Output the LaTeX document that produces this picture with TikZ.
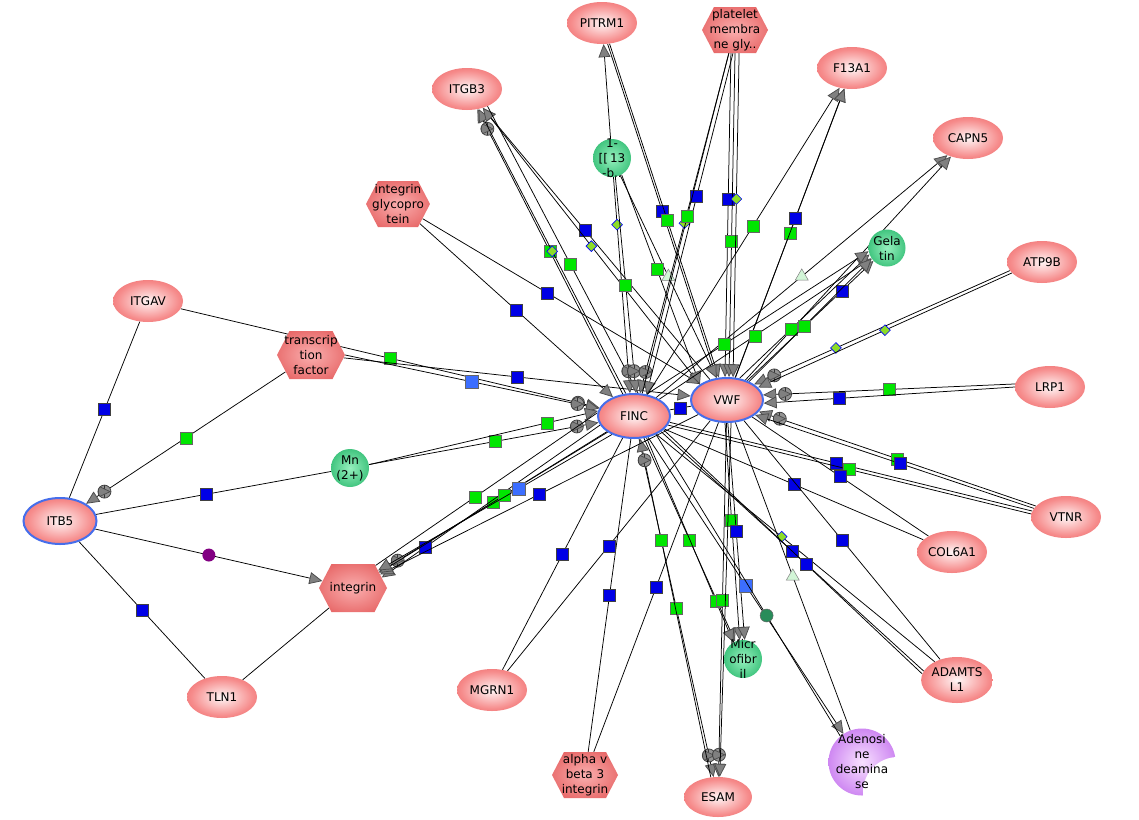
\documentclass[tikz,border=0pt]{standalone}
\usepackage{fontspec}
\setmainfont{DejaVu Sans}
\usetikzlibrary{shapes.geometric,shapes.symbols,arrows.meta,decorations.markings}
\pgfdeclarelayer{bg}
\pgfsetlayers{bg,main}
\definecolor{genein}{RGB}{255,246,246}
\definecolor{genemid}{RGB}{246,140,140}
\definecolor{geneout}{RGB}{234,88,88}
\definecolor{hexin}{RGB}{250,175,175}
\definecolor{hexout}{RGB}{226,82,82}
\definecolor{grnin}{RGB}{150,240,190}
\definecolor{grnout}{RGB}{22,175,95}
\definecolor{purin}{RGB}{248,225,255}
\definecolor{purout}{RGB}{185,90,235}
\definecolor{hubblue}{RGB}{70,110,235}
\definecolor{bsqc}{RGB}{0,0,230}
\definecolor{gsqc}{RGB}{0,230,0}
\definecolor{lbsqc}{RGB}{60,110,255}
\definecolor{diac}{RGB}{140,220,40}
\definecolor{tric}{RGB}{210,245,215}
\definecolor{purc}{RGB}{130,0,130}
\definecolor{dgcc}{RGB}{40,140,90}
\pgfdeclareradialshading{geneshade}{\pgfpoint{0bp}{0bp}}{color(0bp)=(genein); color(22bp)=(genemid); color(38bp)=(geneout); color(50bp)=(geneout)}
\pgfdeclareradialshading{hexshade}{\pgfpoint{0bp}{0bp}}{color(0bp)=(hexin); color(38bp)=(hexout); color(50bp)=(hexout)}
\pgfdeclareradialshading{grnshade}{\pgfpoint{0bp}{0bp}}{color(0bp)=(grnin); color(38bp)=(grnout); color(50bp)=(grnout)}
\pgfdeclareradialshading{purshade}{\pgfpoint{0bp}{0bp}}{color(0bp)=(purin); color(38bp)=(purout); color(50bp)=(purout)}
\begin{document}
\begin{tikzpicture}[x=1pt,y=-1pt,
  txt/.style={font=\fontsize{12}{15}\selectfont},
  gene/.style={ellipse, shading=geneshade, minimum width=70pt, minimum height=42pt, inner sep=0pt, txt},
  hub/.style={gene, draw=hubblue, line width=2pt, minimum width=72pt, minimum height=44pt},
  hexa/.style={signal, signal to=east and west, signal pointer angle=125, shading=hexshade, minimum width=68pt, minimum height=48pt, inner sep=0pt},
  chem/.style={circle, shading=grnshade, minimum size=38pt, inner sep=0pt},
  lt/.style={txt, align=center, inner sep=0pt},
  ed/.style={draw=black, line width=0.75pt},
  ar/.style={-{Triangle[length=13pt,width=12pt,color=black!70,fill=gray]}},
  pcm/.style={circle, draw=black!75, fill=gray!85, minimum size=13pt, inner sep=0pt,
    path picture={\draw[black!80,line width=0.7pt] (path picture bounding box.north) -- (path picture bounding box.south) (path picture bounding box.west) -- (path picture bounding box.east);}},
  arp/.style={ar, postaction={decorate, decoration={markings, mark=at position -22pt with {\node[pcm]{};}}}},
  bsq/.style={rectangle, fill=bsqc, draw=black!75, line width=0.5pt, minimum size=12pt, inner sep=0pt},
  gsq/.style={rectangle, fill=gsqc, draw=black!60, line width=0.5pt, minimum size=12pt, inner sep=0pt},
  lbsq/.style={rectangle, fill=lbsqc, draw=black!60, line width=0.5pt, minimum size=13pt, inner sep=0pt},
  dia/.style={diamond, fill=diac, draw=blue, line width=0.6pt, minimum size=11pt, inner sep=0pt},
  tri/.style={regular polygon, regular polygon sides=3, fill=tric, draw=black!50, line width=0.5pt, minimum size=15pt, inner sep=0pt},
  pur/.style={circle, fill=purc, minimum size=13pt, inner sep=0pt},
  dgc/.style={circle, fill=dgcc, draw=black!60, line width=0.5pt, minimum size=13pt, inner sep=0pt}
]
\useasboundingbox (0,0) rectangle (1139,819);
\begin{pgfonlayer}{bg}
\fill[white] (0,0) rectangle (1139,819);
\end{pgfonlayer}

% ---------- nodes ----------
\node[gene] (pitrm) at (602,23) {PITRM1};
\node[hexa, minimum width=66pt, minimum height=46pt] (plat) at (735,30) {};
\node[gene] (f13a1) at (852,68) {F13A1};
\node[gene] (itgb3) at (467,89) {ITGB3};
\node[gene] (capn5) at (968,138) {CAPN5};
\node[chem] (c13) at (612,158) {};
\node[hexa, minimum width=64pt, minimum height=46pt] (igp) at (398,204) {};
\node[chem, minimum size=37pt] (gel) at (887,248) {};
\node[gene] (atp9b) at (1042,262) {ATP9B};
\node[gene] (itgav) at (148,301) {ITGAV};
\node[hexa] (tf) at (311,355) {};
\node[gene] (lrp1) at (1050,387) {LRP1};
\node[hub] (finc) at (634,416) {FINC};
\node[hub] (vwf) at (727,400) {VWF};
\node[chem] (mn) at (350,468) {};
\node[gene] (vtnr) at (1066,517) {VTNR};
\node[hub, minimum width=73pt, minimum height=46pt] (itb5) at (60,521) {ITB5};
\node[gene] (col6a1) at (952,552) {COL6A1};
\node[hexa] (integ) at (353,588) {};
\node[gene, minimum height=46pt, align=center] (adamts) at (957,680) {ADAMTS\\L1};
\node[chem] (micro) at (743,659) {};
\node[gene] (tln1) at (222,697) {TLN1};
\node[gene] (mgrn1) at (492,690) {MGRN1};
\node[circle, shading=purshade, minimum size=67pt, inner sep=0pt] (ada) at (862,762) {};
\fill[white] (898,792) circle (35);
\node[hexa, minimum width=66pt, minimum height=46pt] (avb3) at (585,775) {};
\node[gene, minimum width=68pt, minimum height=40pt] (esam) at (718,797) {ESAM};

% ---------- texts of shapes ----------
\node[lt] (platt) at (plat) {platelet\\membra\\ne gly..};
\node[lt] (c13t) at (c13) {1-\\{[[}\,13\\-b..};
\node[lt] (igpt) at (igp) {integrin\\glycopro\\tein};
\node[lt] (gelt) at (gel) {Gela\\tin};
\node[lt] (tft) at (tf) {transcrip\\tion\\factor};
\node[lt] (mnt) at (mn) {Mn\\(2+)};
\node[lt] (integt) at (integ) {integrin};
\node[lt] (microt) at (micro) {Micr\\ofibr\\il};
\node[lt] (adat) at (862,762) {Adenosi\\ne\\deamina\\se};
\node[lt] (avb3t) at (avb3) {alpha v\\beta 3\\integrin};

% ---------- connectors ----------
\begin{pgfonlayer}{bg}
% left part
\draw[ed] (itgav) -- node[bsq]{} (itb5);
\draw[ed,arp] (tf) -- node[gsq]{} (itb5);
\draw[ed] (itb5) -- node[bsq,pos=.47]{} (mn);
\draw[ed,ar] (itb5) -- node[pur]{} (integ);
\draw[ed] (itb5) -- node[bsq]{} (tln1);
\draw[ed] (tln1) -- (integ);
\draw[ed,arp] (itgav) -- node[gsq]{} (finc);
\draw[ed,arp] (tf.east) -- node[lbsq]{} (finc);
\draw[ed,ar] (tf.-5) -- node[bsq]{} (vwf);
\draw[ed,arp] (mn) -- node[gsq,pos=.55]{} (finc);
\draw[ed,ar] (mn.10) -- node[gsq,pos=.78]{} (finc.172);
% integrin glycoprotein
\draw[ed,ar] (igp) -- node[bsq]{} (finc);
\draw[ed,ar] (igp) -- node[bsq,pos=.45]{} (vwf);
% ITGB3
\draw[ed,arp] (finc) -- node[gsq]{} (itgb3);
\draw[ed,ar] (finc.110) -- node[dia,pos=.5]{} (itgb3.-60);
\draw[ed,ar] (vwf) -- node[bsq,pos=.55]{} (itgb3);
\draw[ed,ar] (vwf.150) -- node[dia]{} (itgb3.-50);
\draw[ed] (finc.80) -- node[gsq,pos=.45]{} (itgb3.-40);
% PITRM1 and 1-[[13-b..
\draw[ed,ar] (c13) -- (pitrm);
\draw[ed,ar] (pitrm.-75) -- node[bsq]{} (vwf.115);
\draw[ed,ar] (pitrm.-70) -- node[gsq,pos=.53]{} (vwf.110);
\draw[ed,arp] (c13) -- node[dia,pos=.22]{} (finc.100);
\draw[ed,arp] (c13.-80) -- node[gsq]{} (finc.85);
\draw[ed,ar] (c13) -- node[tri]{} (vwf);
\draw[ed,ar] (c13.-60) -- node[gsq,pos=.45]{} (vwf.150);
% platelet membrane
\draw[ed,arp] (plat) -- node[dia]{} (finc);
\draw[ed,ar] (plat.-100) -- node[bsq,pos=.45]{} (vwf.95);
\draw[ed,ar] (plat.-90) -- node[gsq,pos=.58]{} (vwf.85);
\draw[ed,ar] (plat.-80) -- node[dia,pos=.45]{} (vwf.75);
\draw[ed,ar] (plat.-95) -- node[bsq,pos=.42]{} (finc.60);
\draw[ed] (plat.-105) -- node[gsq,pos=.48]{} (finc.70);
% F13A1
\draw[ed,ar] (vwf) -- node[gsq]{} (f13a1);
\draw[ed,ar] (finc) -- node[gsq,pos=.55]{} (f13a1);
\draw[ed,ar] (vwf.70) -- node[bsq,pos=.55]{} (f13a1.-110);
% CAPN5
\draw[ed,ar] (finc) -- node[tri]{} (capn5);
\draw[ed,ar] (vwf) -- (capn5);
% Gelatin
\draw[ed,ar] (finc) -- node[gsq,pos=.45]{} (gel);
\draw[ed,ar] (vwf) -- node[bsq,pos=.75]{} (gel);
\draw[ed,ar] (vwf.60) -- node[gsq,pos=.4]{} (gel.200);
\draw[ed,ar] (vwf.40) -- node[gsq,pos=.45]{} (gel.215);
\draw[ed,ar] (finc.60) -- node[gsq,pos=.35]{} (gel.190);
% ATP9B
\draw[ed,arp] (atp9b.195) -- node[dia,pos=.68]{} (vwf.30);
\draw[ed,ar] (atp9b.200) -- node[dia,pos=.5]{} (vwf.22);
% LRP1
\draw[ed,arp] (lrp1.175) -- node[gsq]{} (vwf.8);
\draw[ed,ar] (lrp1.180) -- node[bsq,pos=.7]{} (vwf.-5);
% VTNR
\draw[ed,arp] (vtnr.160) -- node[gsq]{} (vwf.-20);
\draw[ed,ar] (vtnr.165) -- node[bsq,pos=.48]{} (vwf.-28);
\draw[ed] (vtnr.170) -- node[bsq,pos=.54]{} (finc.-10);
\draw[ed] (vtnr.175) -- node[gsq,pos=.5]{} (finc.-15);
% COL6A1
\draw[ed] (col6a1) -- node[bsq]{} (finc);
\draw[ed] (col6a1) -- node[bsq]{} (vwf);
% ADAMTSL1
\draw[ed] (adamts) -- node[dia,pos=.55]{} (finc);
\draw[ed] (adamts.165) -- node[bsq]{} (finc.-30);
\draw[ed] (adamts.170) -- node[bsq,pos=.45]{} (finc.-25);
\draw[ed] (adamts) -- node[bsq]{} (vwf);
% Microfibril
\draw[ed,ar] (vwf.-95) -- node[gsq,pos=.45]{} (micro.100);
\draw[ed,ar] (vwf.-88) -- node[bsq,pos=.5]{} (micro.85);
\draw[ed,ar] (finc) -- node[gsq]{} (micro);
\draw[ed,ar] (finc.-60) -- node[gsq,pos=.8]{} (micro.120);
% Adenosine deaminase
\draw[ed,ar] (finc) -- node[lbsq]{} (ada);
\draw[ed] (finc.-40) -- node[dgc,pos=.6]{} (ada.130);
\draw[ed] (vwf) -- node[tri]{} (ada);
% ESAM
\draw[ed,arp] (finc) -- node[gsq]{} (esam);
\draw[ed,arp] (vwf) -- node[gsq]{} (esam);
\draw[ed,ar] (vwf.-80) -- (esam.85);
\draw[ed,arp] (esam.110) -- node[gsq,pos=.7]{} (finc.-75);
% alpha v beta 3 integrin, MGRN1
\draw[ed] (avb3) -- node[bsq]{} (finc);
\draw[ed] (avb3) -- node[bsq]{} (vwf);
\draw[ed] (mgrn1) -- node[bsq]{} (finc);
\draw[ed] (mgrn1) -- node[bsq]{} (vwf);
% integrin
\draw[ed,arp] (finc) -- node[gsq]{} (integ);
\draw[ed,ar] (finc.195) -- node[bsq,pos=.8]{} (integ.20);
\draw[ed,ar] (vwf) -- node[bsq]{} (integ);
\draw[ed,ar] (finc.210) -- node[gsq,pos=.45]{} (integ.30);
\draw[ed,ar] (finc.220) -- node[lbsq,pos=.4]{} (integ.35);
\draw[ed] (integ.45) -- node[gsq,pos=.45]{} (finc.175);
% FINC - VWF
\draw[ed] (finc) -- node[bsq]{} (vwf);
\end{pgfonlayer}
\end{tikzpicture}
\end{document}
